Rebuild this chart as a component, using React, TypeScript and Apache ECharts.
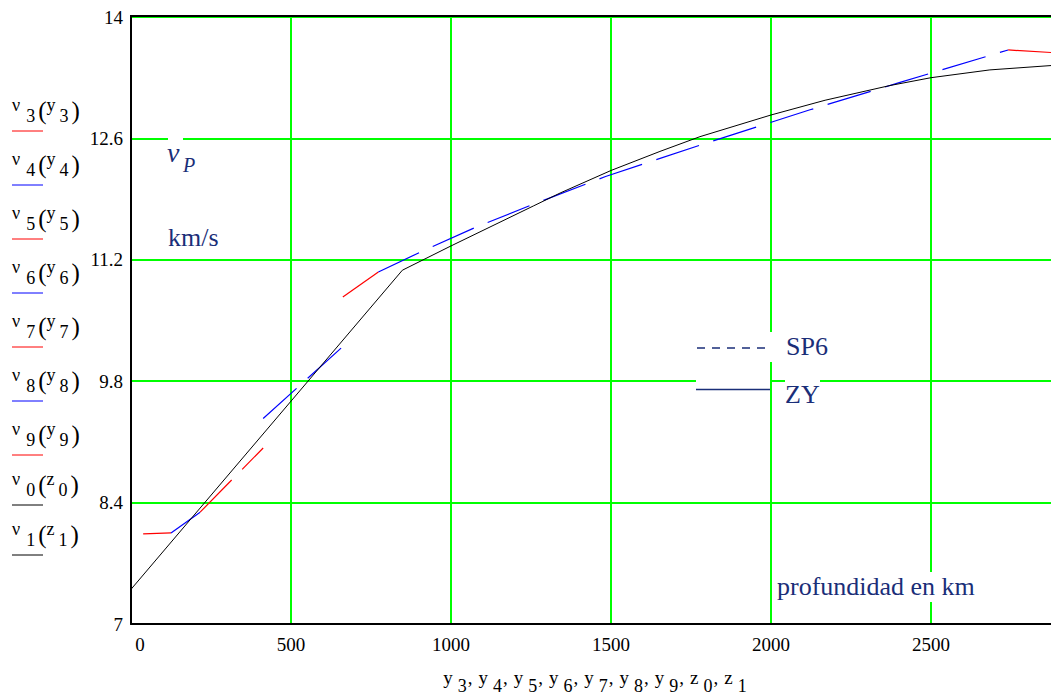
import React, { useEffect, useRef } from "react";
import * as echarts from "echarts";

// axis ranges (km depth vs km/s velocity)
const xMin = 0;
const xMax = 2900;
const xStep = 500;
const yMin = 7;
const yMax = 14;
const yStep = 1.4;

// SP6 model: segments y3..y9 (depth km, velocity km/s)
const sp6Y3 = [[38, 8.04], [125, 8.05]];
const sp6Y4 = [[125, 8.05], [216, 8.29]];
const sp6Y5 = [[216, 8.29], [413, 9.03]];
const sp6Y6 = [[413, 9.37], [662, 10.2]];
const sp6Y7 = [[662, 10.77], [773, 11.06]];
const sp6Y8 = [
  [773, 11.06], [905, 11.29], [1080, 11.58], [1257, 11.84], [1483, 12.16],
  [1801, 12.55], [2122, 12.93], [2398, 13.24], [2741, 13.62],
];
const sp6Y9 = [[2741, 13.62], [2900, 13.585]];

// ZY model: segments z0, z1
const zyZ0 = [[0, 7.4], [848, 11.08]];
const zyZ1 = [
  [848, 11.08], [1000, 11.36], [1257, 11.82], [1341, 11.97], [1500, 12.23],
  [1653, 12.45], [1778, 12.62], [2000, 12.87], [2169, 13.04], [2372, 13.21],
  [2500, 13.3], [2684, 13.39], [2875, 13.44], [2900, 13.45],
];

// left trace labels
const traceIdx = ["3", "4", "5", "6", "7", "8", "9", "0", "1"];
const traceArg = ["y", "y", "y", "y", "y", "y", "y", "z", "z"];
const traceColor = ["#ff0000", "#0000ff", "#ff0000", "#0000ff", "#ff0000", "#0000ff", "#ff0000", "#000000", "#000000"];
const traceUnderlineY = [131, 185, 239, 293, 347, 401, 455, 505, 555];

const SERIF = "Liberation Serif";
const NAVY = "#1a2e78";
const GREEN = "#00ff00";

export default function App() {
  const ref = useRef<HTMLDivElement>(null);
  useEffect(() => {
    if (!ref.current) return;
    const chart = echarts.init(ref.current, null, { renderer: "svg" });

    const mk = (name: string, data: number[][], color: string, dashed: boolean) => ({
      type: "line",
      name,
      data,
      symbol: "none",
      showSymbol: false,
      silent: true,
      z: 5,
      lineStyle: { color, width: dashed ? 1.2 : 1, type: dashed ? [45, 15] : "solid" },
      itemStyle: { color },
    });

    const sub = { fontSize: 18, lineHeight: 18, fontFamily: SERIF, fill: "#000", padding: [11, 0, 0, 6] };
    const base = { fontSize: 18, lineHeight: 18, fontFamily: SERIF, fill: "#000", padding: [0, 0, 11, 0] };
    const par = { fontSize: 25, lineHeight: 25, fontFamily: SERIF, fill: "#000", padding: [0, 0, 0, 3] };

    const legendEls: any[] = [];
    traceIdx.forEach((idx, i) => {
      const u = traceUnderlineY[i];
      legendEls.push({
        type: "text",
        x: 12,
        y: u - 20.5,
        z: 20,
        style: {
          text: `{n|ν}{s|${idx}}{p|(}{n|${traceArg[i]}}{t|${idx}}{p|)}`,
          align: "left",
          verticalAlign: "middle",
          fontFamily: SERIF,
          rich: { n: base, s: sub, t: { ...sub, padding: [11, 0, 0, 4] }, p: par },
        },
      });
      legendEls.push({
        type: "line",
        z: 20,
        shape: { x1: 12, y1: u, x2: 43, y2: u },
        style: { stroke: traceColor[i], lineWidth: 1 },
      });
    });

    const titleParts = traceIdx
      .map((idx, i) => `{b|${traceArg[i]}}{s|${idx}}` + (i < traceIdx.length - 1 ? "{c|,}" : ""))
      .join("");

    const mask = (x: number, y: number, w: number, h: number) => ({
      type: "rect",
      z: 15,
      shape: { x, y, width: w, height: h },
      style: { fill: "#ffffff" },
    });

    chart.setOption({
      animation: false,
      backgroundColor: "#ffffff",
      textStyle: { fontFamily: SERIF },
      grid: { left: 131, top: 17, width: 928, height: 607, show: false, outerBoundsMode: "none", containLabel: false },
      xAxis: {
        type: "value",
        min: xMin,
        max: xMax,
        interval: xStep,
        axisLine: { show: true, lineStyle: { color: "#000", width: 2 } },
        axisTick: { show: false },
        splitLine: { show: true, lineStyle: { color: GREEN, width: 2 } },
        axisLabel: {
          margin: 11,
          fontSize: 19,
          fontFamily: SERIF,
          color: "#000",
          showMaxLabel: false,
          formatter: (v: number) => (v === 0 ? "{z|0}" : String(v)),
          rich: { z: { fontSize: 19, fontFamily: SERIF, color: "#000", padding: [0, 0, 0, 18] } },
        },
      },
      yAxis: {
        type: "value",
        min: yMin,
        max: yMax,
        interval: yStep,
        axisLine: { show: true, lineStyle: { color: "#000", width: 2 } },
        axisTick: { show: false },
        splitLine: { show: true, lineStyle: { color: GREEN, width: 2 } },
        axisLabel: {
          margin: 8,
          fontSize: 19,
          fontFamily: SERIF,
          color: "#000",
          formatter: (v: number) => String(Math.round(v * 10) / 10),
        },
      },
      series: [
        mk("y3", sp6Y3, traceColor[0], true),
        mk("y4", sp6Y4, traceColor[1], true),
        mk("y5", sp6Y5, traceColor[2], true),
        mk("y6", sp6Y6, traceColor[3], true),
        mk("y7", sp6Y7, traceColor[4], true),
        mk("y8", sp6Y8, traceColor[5], true),
        mk("y9", sp6Y9, traceColor[6], true),
        mk("z0", zyZ0, traceColor[7], false),
        mk("z1", zyZ1, traceColor[8], false),
      ],
      graphic: [
        { type: "line", z: 16, shape: { x1: 130, y1: 16, x2: 1051, y2: 16 }, style: { stroke: "#000", lineWidth: 2 } },
        mask(168, 136, 15, 28),
        mask(696, 340, 74, 55),
        mask(768, 332, 62, 30),
        mask(785, 375, 35, 35),
        mask(776, 572, 199, 30),
        {
          type: "text", x: 167, y: 152.3, z: 20,
          style: { text: "ν", fontSize: 28, fontStyle: "italic", fontFamily: SERIF, fill: NAVY, verticalAlign: "middle" },
        },
        {
          type: "text", x: 183, y: 165.2, z: 20,
          style: { text: "P", fontSize: 20, fontStyle: "italic", fontFamily: SERIF, fill: NAVY, verticalAlign: "middle" },
        },
        {
          type: "text", x: 168, y: 237, z: 20,
          style: { text: "km/s", fontSize: 26, fontFamily: SERIF, fill: NAVY, verticalAlign: "middle" },
        },
        {
          type: "line", z: 20, shape: { x1: 697, y1: 348, x2: 765, y2: 348 },
          style: { stroke: NAVY, lineWidth: 1.5, lineDash: [8, 7] },
        },
        {
          type: "line", z: 20, shape: { x1: 696, y1: 389.5, x2: 770, y2: 389.5 },
          style: { stroke: NAVY, lineWidth: 1.5 },
        },
        {
          type: "text", x: 786, y: 346.5, z: 20,
          style: { text: "SP6", fontSize: 26, fontFamily: SERIF, fill: NAVY, verticalAlign: "middle" },
        },
        {
          type: "text", x: 785, y: 394, z: 20,
          style: { text: "ZY", fontSize: 26, fontFamily: SERIF, fill: NAVY, verticalAlign: "middle" },
        },
        {
          type: "text", x: 777, y: 586, z: 20,
          style: { text: "profundidad en km", fontSize: 26, fontFamily: SERIF, fill: NAVY, verticalAlign: "middle" },
        },
        {
          type: "text", x: 595, y: 681.5, z: 20,
          style: {
            text: titleParts,
            align: "center",
            verticalAlign: "middle",
            fontFamily: SERIF,
            rich: {
              b: { fontSize: 19, lineHeight: 19, fontFamily: SERIF, fill: "#000", padding: [0, 0, 8, 0] },
              s: { fontSize: 18, lineHeight: 18, fontFamily: SERIF, fill: "#000", padding: [9, 0, 0, 5] },
              c: { fontSize: 19, lineHeight: 19, fontFamily: SERIF, fill: "#000", padding: [0, 6, 8, 1] },
            },
          },
        },
        ...legendEls,
      ],
    });
    return () => chart.dispose();
  }, []);
  return (
    <div
      ref={ref}
      style={{ position: "fixed", left: 0, top: 0, width: 1051, height: 698, background: "#fff" }}
    />
  );
}
